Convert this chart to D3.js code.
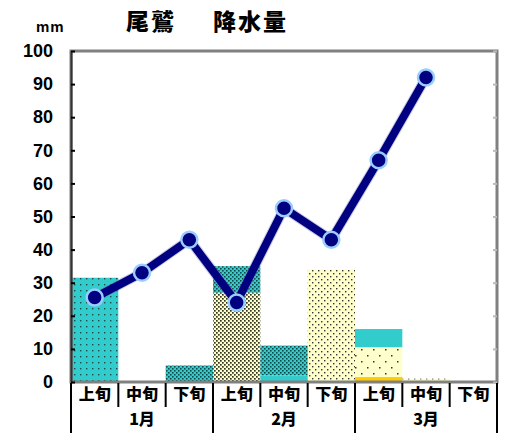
<!DOCTYPE html>
<html>
<head>
<meta charset="utf-8">
<script src="https://cdn.jsdelivr.net/npm/d3@7"></script>
<style>
  body { margin: 0; background: #fff; }
  svg { display: block; }
  text { font-family: "Liberation Sans", Arial, sans-serif; font-weight: bold; fill: #000; }
  .jp { font-family: "Noto Sans CJK JP", sans-serif; font-weight: 900; }
</style>
</head>
<body>
<div class="canvas"></div>
<script>
// 旬 and month labels
const decades = ['上旬', '中旬', '下旬'];
const months = ['1月', '2月', '3月'];

// stacked bar series (bottom to top), one value per 旬
const orangeSolid = [0, 0, 0, 0, 0, 0, 1.5, 0, 0];
const yellowSparse = [0, 0, 0, 0, 0, 0, 9, 0, 0];
const yellowDense = [0, 0, 0, 27, 0, 0, 0, 0, 0];
const yellowDots = [0, 0, 0, 0, 0, 34, 0, 1, 0];
const tealSolid = [0, 0, 0, 0, 2, 0, 5.5, 0, 0];
const tealDense = [0, 0, 5, 8, 9, 0, 0, 0, 0];
const tealDots = [31.5, 0, 0, 0, 0, 0, 0, 0, 0];

// line series
const lineValues = [25.5, 33, 43, 24, 52.5, 43, 67, 92, null];

const yTicks = [0, 10, 20, 30, 40, 50, 60, 70, 80, 90, 100];

const width = 506;
const height = 445;
const plot = { left: 71, right: 497, top: 51, bottom: 382 };

const svg = d3.select('.canvas')
  .append('svg')
  .attr('width', width)
  .attr('height', height);

const defs = svg.append('defs');

// helper to build a dotted pattern
const dotPattern = (id, bg, size, dots, r, col) => {
  const p = defs.append('pattern')
    .attr('id', id)
    .attr('patternUnits', 'userSpaceOnUse')
    .attr('width', size)
    .attr('height', size);
  p.append('rect').attr('width', size).attr('height', size).attr('fill', bg);
  dots.forEach(([cx, cy]) => {
    p.append('rect')
      .attr('x', cx).attr('y', cy)
      .attr('width', r).attr('height', r)
      .attr('fill', col);
  });
};

dotPattern('pTealDots', '#33CCCC', 6, [[2, 2]], 1.4, '#1d4d4d');
dotPattern('pTealDense', '#33CCCC', 4, [[0, 0], [2, 2]], 1.6, '#134848');
dotPattern('pYellowDense', '#FFFFCC', 4, [[0, 0], [2, 2]], 1.7, '#333322');
dotPattern('pYellowDots', '#FFFFCC', 6, [[0, 0], [3, 3]], 1.4, '#333');
dotPattern('pYellowSparse', '#FFFFCC', 12, [[1, 1], [7, 7]], 1.5, '#333');

const series = [
  { key: 'orangeSolid', values: orangeSolid, fill: '#FFCC00' },
  { key: 'yellowSparse', values: yellowSparse, fill: 'url(#pYellowSparse)' },
  { key: 'yellowDense', values: yellowDense, fill: 'url(#pYellowDense)' },
  { key: 'yellowDots', values: yellowDots, fill: 'url(#pYellowDots)' },
  { key: 'tealSolid', values: tealSolid, fill: '#33CCCC' },
  { key: 'tealDense', values: tealDense, fill: 'url(#pTealDense)' },
  { key: 'tealDots', values: tealDots, fill: 'url(#pTealDots)' },
];

const categories = d3.range(months.length * decades.length);

const table = categories.map(i => {
  const row = { i };
  series.forEach(s => { row[s.key] = s.values[i]; });
  return row;
});

const x = d3.scaleBand()
  .domain(categories)
  .range([plot.left, plot.right])
  .padding(0);

const y = d3.scaleLinear()
  .domain([0, 100])
  .range([plot.bottom, plot.top]);

const stacked = d3.stack().keys(series.map(s => s.key))(table);

// bars
svg.append('g')
  .selectAll('g')
  .data(stacked)
  .join('g')
  .attr('fill', (d, k) => series[k].fill)
  .selectAll('rect')
  .data(d => d.filter(v => v[1] - v[0] > 0))
  .join('rect')
  .attr('x', d => x(d.data.i))
  .attr('width', x.bandwidth())
  .attr('y', d => y(d[1]))
  .attr('height', d => y(d[0]) - y(d[1]));

// frame
svg.append('rect')
  .attr('x', plot.left)
  .attr('y', plot.top)
  .attr('width', plot.right - plot.left)
  .attr('height', plot.bottom - plot.top)
  .attr('fill', 'none')
  .attr('stroke', '#808080')
  .attr('stroke-width', 3);

// right side ticks
svg.append('g')
  .attr('transform', `translate(${plot.right},0)`)
  .call(d3.axisRight(y).tickValues(yTicks).tickSize(-4).tickFormat(''))
  .call(g => g.select('.domain').remove())
  .call(g => g.selectAll('line').attr('stroke', '#bbb').attr('stroke-width', 2));

// left axis
svg.append('g')
  .attr('transform', `translate(${plot.left},0)`)
  .call(d3.axisLeft(y).tickValues(yTicks).tickSizeInner(-4).tickSizeOuter(0).tickPadding(18))
  .call(g => g.select('.domain').attr('stroke', '#333').attr('stroke-width', 2))
  .call(g => g.selectAll('line').attr('stroke', '#000').attr('stroke-width', 2))
  .call(g => g.selectAll('text')
    .attr('font-size', 18)
    .attr('font-family', '"Liberation Sans", Arial, sans-serif')
    .attr('font-weight', 'bold'));

// x axis: 旬 labels and separators
const xg = svg.append('g');

xg.selectAll('line.dec')
  .data(d3.range(categories.length + 1))
  .join('line')
  .attr('class', 'dec')
  .attr('x1', i => plot.left + i * x.bandwidth())
  .attr('x2', i => plot.left + i * x.bandwidth())
  .attr('y1', plot.bottom + 1)
  .attr('y2', i => i % decades.length === 0 ? 433 : 407)
  .attr('stroke', '#000')
  .attr('stroke-width', 2);

xg.selectAll('text.dec')
  .data(categories)
  .join('text')
  .attr('class', 'dec jp')
  .attr('x', i => x(i) + x.bandwidth() / 2)
  .attr('y', 396)
  .attr('text-anchor', 'middle')
  .attr('dominant-baseline', 'middle')
  .attr('font-size', 16)
  .text(i => decades[i % decades.length]);

xg.selectAll('text.month')
  .data(months)
  .join('text')
  .attr('class', 'month jp')
  .attr('x', (d, m) => x(m * decades.length + 1) + x.bandwidth() / 2)
  .attr('y', 421)
  .attr('text-anchor', 'middle')
  .attr('dominant-baseline', 'middle')
  .attr('font-size', 16)
  .text(d => d);

// line
const linePts = categories
  .map(i => ({ i, v: lineValues[i] }))
  .filter(d => d.v != null);

const line = d3.line()
  .x(d => x(d.i) + x.bandwidth() / 2)
  .y(d => y(d.v));

svg.append('path')
  .datum(linePts)
  .attr('d', line)
  .attr('fill', 'none')
  .attr('stroke', '#7777bb')
  .attr('stroke-width', 10)
  .attr('stroke-opacity', 0.4);

svg.append('path')
  .datum(linePts)
  .attr('d', line)
  .attr('fill', 'none')
  .attr('stroke', '#000080')
  .attr('stroke-width', 8);

svg.append('g')
  .selectAll('circle')
  .data(linePts)
  .join('circle')
  .attr('cx', d => x(d.i) + x.bandwidth() / 2)
  .attr('cy', d => y(d.v))
  .attr('r', 8)
  .attr('fill', '#000080')
  .attr('stroke', '#99CCFF')
  .attr('stroke-width', 2.5);

// titles
svg.append('text')
  .attr('x', 36)
  .attr('y', 32)
  .attr('font-size', 15)
  .attr('letter-spacing', 1)
  .text('mm');

svg.append('text')
  .attr('class', 'jp')
  .attr('x', 126)
  .attr('y', 24)
  .attr('dominant-baseline', 'middle')
  .attr('font-size', 23)
  .attr('letter-spacing', 2)
  .text('尾鷲');

svg.append('text')
  .attr('class', 'jp')
  .attr('x', 213)
  .attr('y', 24)
  .attr('dominant-baseline', 'middle')
  .attr('font-size', 23)
  .attr('letter-spacing', 2)
  .text('降水量');
</script>
</body>
</html>
